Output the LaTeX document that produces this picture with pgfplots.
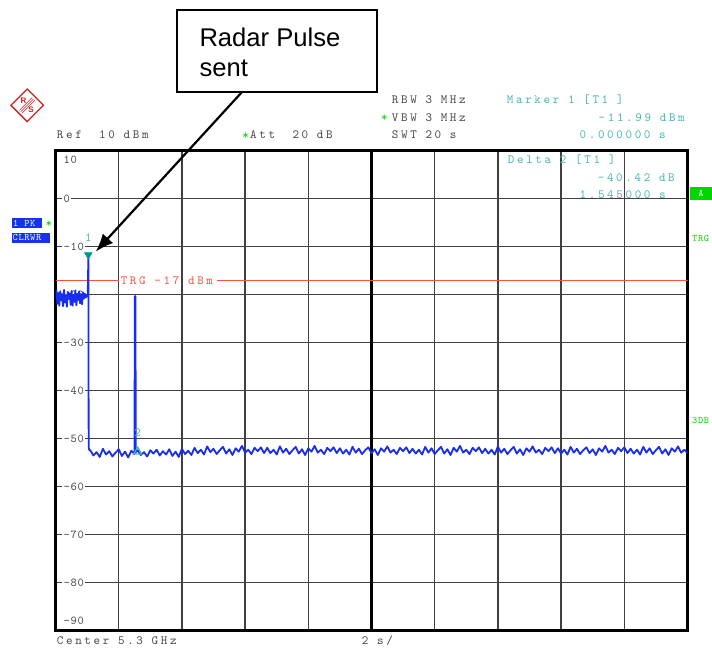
\documentclass[border=0pt]{standalone}
\usepackage{fontspec}
\usepackage{pgfplots}
\pgfplotsset{compat=1.18}
\usetikzlibrary{arrows.meta}
\setsansfont{Liberation Sans}
\newfontfamily\instrfam{lmmono10-regular}[Extension=.otf, LetterSpace=21]
\newfontfamily\tickfam{lmmono10-regular}[Extension=.otf, LetterSpace=6]
\newcommand\instr{\instrfam\fontsize{12.5}{12.5}\selectfont}
\newcommand\tickf{\tickfam\fontsize{12}{12}\selectfont}
\newcommand\SP{\hspace*{8.7pt}}
\definecolor{txtgray}{RGB}{70,70,70}
\definecolor{mkteal}{RGB}{70,180,180}
\definecolor{mkdark}{RGB}{0,150,140}
\definecolor{trace}{RGB}{25,45,240}
\definecolor{trgred}{RGB}{250,80,60}
\definecolor{rsgreen}{RGB}{0,215,0}
\definecolor{rsblue}{RGB}{20,50,245}
\definecolor{rsred}{RGB}{210,30,30}
\tikzset{tl/.style={font=\tickf, text=txtgray, anchor=west, fill=white, inner xsep=1.5pt, inner ysep=1pt}}
\begin{document}
\begin{tikzpicture}[x=1pt,y=1pt]
\path[use as bounding box] (0,0) rectangle (712,648);
\begin{axis}[
  at={(55.5pt,17.3pt)}, anchor=south west,
  scale only axis, width=632pt, height=480pt,
  xmin=0, xmax=20, ymin=-90, ymax=10,
  xtick={2,4,...,18}, ytick={-80,-70,...,0},
  xticklabels=\empty, yticklabels=\empty,
  major tick length=0pt,
  grid=major, grid style={line width=1.3pt, color=black!75},
  axis line style={line width=2.5pt, black},
]
% tick labels (drawn before traces)
\node[font=\tickf, text=txtgray, anchor=west, inner sep=0pt] at (axis cs:0.25,8.1) {10};
\node[font=\tickf, text=txtgray, anchor=west, inner sep=0pt] at (axis cs:0.25,-87.9) {-90};
\node[tl] at (axis cs:0.2,0) {0};
\node[tl] at (axis cs:0.2,-10) {-10};
\node[tl] at (axis cs:0.2,-20) {-20};
\node[tl] at (axis cs:0.2,-30) {-30};
\node[tl] at (axis cs:0.2,-40) {-40};
\node[tl] at (axis cs:0.2,-50) {-50};
\node[tl] at (axis cs:0.2,-60) {-60};
\node[tl] at (axis cs:0.2,-70) {-70};
\node[tl] at (axis cs:0.2,-80) {-80};
\draw[line width=2.5pt] (axis cs:10,-90) -- (axis cs:10,10);
% trigger line
\addplot[trgred, line width=1.2pt] coordinates {(0,-17) (2.0,-17)};
\addplot[trgred, line width=1.2pt] coordinates {(5.12,-17) (20,-17)};
\node[font=\instr, text=trgred, anchor=west, inner sep=0pt] at (axis cs:2.06,-17) {TRG\SP-17\SP dBm};
% trace
\addplot[trace, line width=1.8pt, line join=round] coordinates {
(0.00,-20.6)(0.03,-19.1)(0.06,-21.9)(0.09,-19.6)(0.12,-22.3)(0.15,-19.3)(0.18,-21.2)(0.21,-19.9)
(0.24,-22.4)(0.27,-19.0)(0.30,-21.6)(0.33,-20.2)(0.36,-22.5)(0.39,-19.4)(0.42,-20.9)(0.45,-19.7)
(0.48,-22.1)(0.51,-19.2)(0.54,-22.3)(0.57,-20.0)(0.60,-21.5)(0.63,-19.1)(0.66,-22.2)(0.69,-19.8)
(0.72,-21.1)(0.75,-19.3)(0.78,-21.8)(0.81,-19.9)(0.84,-22.0)(0.87,-19.5)(0.90,-20.8)(0.93,-19.8)
(0.96,-20.6)(0.99,-20.1)(1.02,-20.4)
(1.04,-11.99)(1.05,-51.8)(1.07,-52.4)
(1.1,-52.4)(1.2,-53.5)(1.3,-52.8)(1.4,-53.8)(1.5,-52.1)(1.6,-53.3)(1.7,-52.6)(1.8,-53.7)(1.9,-52.9)
(2.0,-52.2)(2.1,-53.6)(2.2,-52.7)(2.3,-53.9)(2.4,-52.5)(2.5,-53.2)(2.51,-20.3)(2.53,-20.3)(2.54,-52.8)
(2.6,-52.4)(2.7,-53.4)(2.8,-52.8)(2.9,-53.7)(3.0,-52.4)(3.1,-53.1)(3.2,-52.3)(3.3,-53.5)(3.4,-52.6)
(3.5,-53.3)(3.6,-52.2)(3.7,-53.6)(3.8,-52.7)(3.9,-53.8)(4.0,-52.1)(4.1,-53.2)(4.2,-52.5)(4.3,-53.4)
(4.4,-51.9)(4.5,-53.0)(4.6,-52.3)(4.7,-53.3)(4.8,-51.6)(4.9,-52.8)(5.0,-52.1)(5.1,-53.2)(5.2,-52.4)
(5.3,-51.7)(5.4,-53.1)(5.5,-52.2)(5.6,-53.4)(5.7,-52.0)(5.8,-52.7)(5.9,-51.5)(6.0,-52.9)(6.1,-52.3)
(6.2,-53.2)(6.3,-51.9)(6.4,-52.6)(6.5,-51.8)(6.6,-53.0)(6.7,-51.9)(6.8,-53.0)(6.9,-52.3)(7.0,-53.3)
(7.1,-51.6)(7.2,-52.9)(7.3,-52.1)(7.4,-53.2)(7.5,-52.4)(7.6,-51.7)(7.7,-53.1)(7.8,-52.2)(7.9,-53.4)
(8.0,-52.0)(8.1,-52.7)(8.2,-51.5)(8.3,-52.9)(8.4,-52.3)(8.5,-53.2)(8.6,-51.9)(8.7,-52.6)(8.8,-51.8)
(8.9,-53.0)(9.0,-52.0)(9.1,-53.1)(9.2,-52.3)(9.3,-53.3)(9.4,-51.7)(9.5,-52.9)(9.6,-52.1)(9.7,-53.2)
(9.8,-52.4)(9.9,-51.8)(10.0,-53.0)(10.1,-52.2)(10.2,-53.4)(10.3,-52.0)(10.4,-52.7)(10.5,-51.6)
(10.6,-52.9)(10.7,-52.3)(10.8,-53.2)(10.9,-51.9)(11.0,-52.6)(11.1,-51.8)(11.2,-53.0)(11.3,-52.1)
(11.4,-53.1)(11.5,-52.3)(11.6,-53.3)(11.7,-51.7)(11.8,-52.9)(11.9,-52.0)(12.0,-53.2)(12.1,-52.4)
(12.2,-51.7)(12.3,-53.1)(12.4,-52.2)(12.5,-53.4)(12.6,-51.9)(12.7,-52.7)(12.8,-51.5)(12.9,-52.9)
(13.0,-52.3)(13.1,-53.2)(13.2,-51.9)(13.3,-52.6)(13.4,-51.8)(13.5,-53.0)(13.6,-52.1)(13.7,-53.1)
(13.8,-52.3)(13.9,-53.3)(14.0,-51.6)(14.1,-52.9)(14.2,-52.1)(14.3,-53.2)(14.4,-52.4)(14.5,-51.7)
(14.6,-53.1)(14.7,-52.2)(14.8,-53.4)(14.9,-52.0)(15.0,-52.7)(15.1,-51.6)(15.2,-52.9)(15.3,-52.3)
(15.4,-53.2)(15.5,-51.9)(15.6,-52.6)(15.7,-51.8)(15.8,-53.0)(15.9,-52.0)(16.0,-53.1)(16.1,-52.3)
(16.2,-53.3)(16.3,-51.7)(16.4,-52.9)(16.5,-52.1)(16.6,-53.2)(16.7,-52.4)(16.8,-51.8)(16.9,-53.0)
(17.0,-52.2)(17.1,-53.4)(17.2,-52.0)(17.3,-52.7)(17.4,-51.5)(17.5,-52.9)(17.6,-52.3)(17.7,-53.2)
(17.8,-51.9)(17.9,-52.6)(18.0,-51.8)(18.1,-53.0)(18.2,-52.1)(18.3,-53.1)(18.4,-52.3)(18.5,-53.3)
(18.6,-51.7)(18.7,-52.9)(18.8,-52.0)(18.9,-53.2)(19.0,-52.4)(19.1,-51.7)(19.2,-53.1)(19.3,-52.2)
(19.4,-53.4)(19.5,-52.0)(19.6,-52.7)(19.7,-51.6)(19.8,-52.9)(19.9,-52.3)(20.0,-53.0)
};
% markers
\addplot[only marks, mark=triangle*, mark size=4.5pt, mark options={rotate=180, fill=mkdark, draw=mkdark}] coordinates {(1.04,-11.7)};
\addplot[only marks, mark=triangle, mark size=4.5pt, mark options={draw=mkteal, line width=1.3pt}] coordinates {(2.6,-52.7)};
\node[font=\instr, text=mkteal, inner sep=0pt] at (axis cs:1.04,-8.1) {1};
\node[font=\instr, text=mkteal, inner sep=0pt] at (axis cs:2.6,-48.7) {2};
\end{axis}
% header texts
\begin{scope}[every node/.style={inner sep=0pt, font=\instr}]
\node[text=txtgray, anchor=west] at (56.7,513) {Ref\SP\SP 10\SP dBm};
\node[text=rsgreen] at (245.7,512) {*};
\node[text=txtgray, anchor=west] at (250,513) {Att\SP\SP 20\SP dB};
\node[text=txtgray, anchor=west] at (391.7,548) {RBW\SP 3\SP MHz};
\node[text=rsgreen] at (384.5,529.7) {*};
\node[text=txtgray, anchor=west] at (391.7,530.7) {VBW\SP 3\SP MHz};
\node[text=txtgray, anchor=west] at (391.7,513) {SWT\SP 20\SP s};
\node[text=mkteal, anchor=west] at (506.7,548) {Marker\SP 1\SP [T1\SP]};
\node[text=mkteal, anchor=east] at (685,530.7) {-11.99\SP dBm};
\node[text=mkteal, anchor=east] at (666,513) {0.000000\SP s};
\node[text=mkteal, anchor=west] at (507.7,488) {Delta\SP 2\SP [T1\SP]};
\node[text=mkteal, anchor=east] at (675,470.3) {-40.42\SP dB};
\node[text=mkteal, anchor=east] at (666,453) {1.545000\SP s};
\node[text=txtgray, anchor=west] at (56.7,7) {Center\SP 5.3\SP GHz};
\node[text=txtgray, anchor=west] at (361.7,7) {2\SP s/};
% left boxes
\fill[rsblue] (11.7,419.7) rectangle (42.3,429.7);
\node[text=white, anchor=west, font=\tickfam\bfseries\fontsize{10}{10}\selectfont] at (13,424.7) {1 PK};
\node[text=rsgreen] at (49,424) {*};
\fill[rsblue] (11.7,405.3) rectangle (50,415.3);
\node[text=white, anchor=west, font=\tickfam\bfseries\fontsize{10}{10}\selectfont] at (12.5,410.3) {CLRWR};
% right side
\fill[rsgreen] (690,448) rectangle (712,461.3);
\node[text=white, font=\tickfam\bfseries\fontsize{10}{10}\selectfont] at (701,454.7) {A};
\node[text=rsgreen, anchor=west, font=\tickfam\bfseries\fontsize{10}{10}\selectfont] at (692,409.7) {TRG};
\node[text=rsgreen, anchor=west, font=\tickfam\bfseries\fontsize{10}{10}\selectfont] at (692,228) {3DB};
\end{scope}
% R&S logo
\begin{scope}[shift={(27.2,542.7)}, rotate=45]
\draw[rsred, line width=1.3pt] (-11.5,-11.5) rectangle (11.5,11.5);
\draw[rsred, line width=0.5pt] (-9,-2) -- (9,-2);
\draw[rsred, line width=0.5pt] (-9,0) -- (9,0);
\draw[rsred, line width=0.5pt] (-9,2) -- (9,2);
\end{scope}
\node[text=rsred, font=\sffamily\bfseries\fontsize{8}{8}\selectfont, inner sep=0pt] at (23.5,547) {R};
\node[text=rsred, font=\sffamily\bfseries\fontsize{8}{8}\selectfont, inner sep=0pt] at (31,538) {S};
% annotation
\fill[white] (177.3,556.3) rectangle (377.3,638);
\draw[line width=1.8pt] (177.3,556.3) rectangle (377.3,638);
\node[anchor=base west, inner sep=0pt, font=\sffamily\fontsize{25.6}{30}\selectfont] at (199.3,601.3) {Radar Pulse};
\node[anchor=base west, inner sep=0pt, font=\sffamily\fontsize{25.6}{30}\selectfont] at (199.3,571.3) {sent};
\draw[line width=2.2pt, -{Latex[length=18pt,width=14pt]}] (242,556) -- (95.7,396.3);
\end{tikzpicture}
\end{document}
